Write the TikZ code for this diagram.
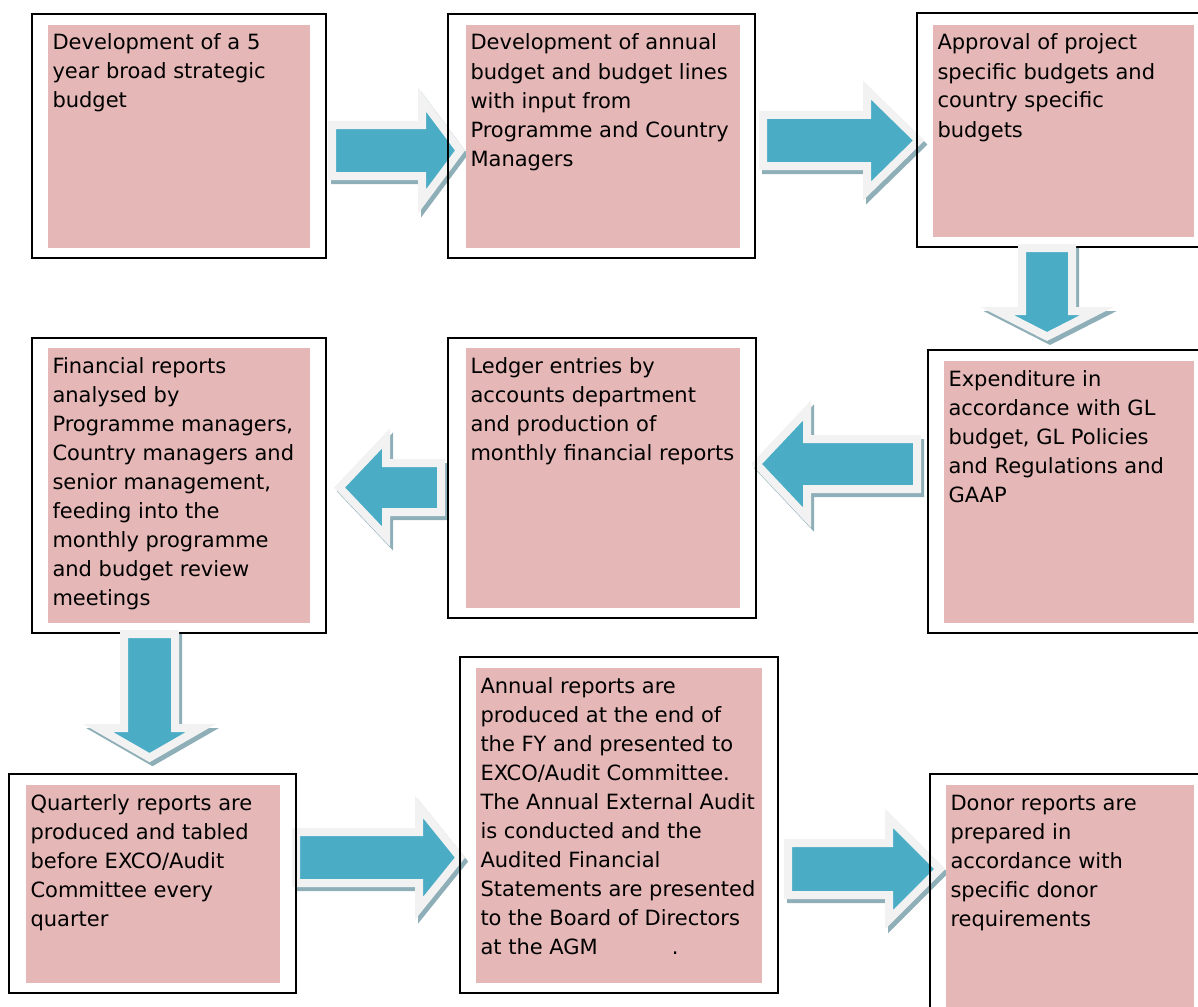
\documentclass[tikz,border=0pt]{standalone}
\usepackage{fontspec}
\setmainfont{DejaVu Sans}

\definecolor{panelpink}{HTML}{E5B8B7}
\definecolor{arrowblue}{HTML}{4BACC6}
\definecolor{arrowrim}{HTML}{F2F2F2}
\definecolor{shadowblue}{HTML}{8FAFB8}

\tikzset{
  frame/.style={draw=black, line width=2.8pt, inner sep=0pt, outer sep=0pt, anchor=north west},
  panel/.style={fill=panelpink, inner sep=0pt, outer sep=0pt, anchor=north west},
  boxtext/.style={anchor=north west, inner sep=0pt, outer sep=0pt, align=left,
    font=\fontsize{21}{29}\selectfont, text=black},
  arrowshadow/.style={fill=shadowblue, draw=shadowblue, line width=8pt, line join=miter},
  arrowbody/.style={fill=arrowblue, draw=arrowrim, line width=8pt, line join=miter},
}

% block arrow: start x, start y, direction, length, head base, shaft half width, head half width
\newcommand\flowarrow[7]{%
  \draw[arrowshadow, shift={(#1,#2)}, xshift=3pt, yshift=-4pt, rotate=#3]
    (0,-#6) -- (#5,-#6) -- (#5,-#7) -- (#4,0) -- (#5,#7) -- (#5,#6) -- (0,#6) -- cycle;
  \draw[arrowbody, shift={(#1,#2)}, rotate=#3]
    (0,-#6) -- (#5,-#6) -- (#5,-#7) -- (#4,0) -- (#5,#7) -- (#5,#6) -- (0,#6) -- cycle;
}
\newcommand\firstline{\rule{0pt}{17pt}}

\begin{document}
\begin{tikzpicture}[x=1pt, y=-1pt]
\useasboundingbox (0,0) rectangle (1198,1006);
\clip (0,0) rectangle (1198,1006);

% horizontal arrows sit behind the boxes
\flowarrow{332}{150.5}{0}{128}{90}{25.5}{51}
\flowarrow{763}{140.5}{0}{155.7}{104}{25.5}{50.5}
\flowarrow{917}{464}{180}{160.5}{110}{25}{53.6}
\flowarrow{441}{487.5}{180}{101.5}{55}{24.5}{49}
\flowarrow{296}{857.5}{0}{164}{123}{25.5}{50.8}
\flowarrow{788}{869}{0}{151.7}{101}{26}{50.7}

% row 1
\node[frame, minimum width=294pt, minimum height=244pt] (b1) at (32,14) {};
\node[panel, minimum width=262pt, minimum height=223pt] (b1-fill) at (48,25) {};
\node[boxtext] (b1-text) at (52.5,33) {\firstline Development of a 5\\year broad strategic\\budget};

\node[frame, minimum width=307pt, minimum height=244pt] (b2) at (448,14) {};
\node[panel, minimum width=274pt, minimum height=223pt] (b2-fill) at (466,25) {};
\node[boxtext] (b2-text) at (470.5,33) {\firstline Development of annual\\budget and budget lines\\with input from\\Programme and Country\\Managers};

\node[frame, minimum width=295pt, minimum height=234pt] (b3) at (917,13) {};
\node[panel, minimum width=261pt, minimum height=212pt] (b3-fill) at (933,25) {};
\node[boxtext] (b3-text) at (937.5,33) {\firstline Approval of project\\specific budgets and\\country specific\\budgets};

% row 2
\node[frame, minimum width=284pt, minimum height=283pt] (b4) at (928,350) {};
\node[panel, minimum width=250pt, minimum height=262pt] (b4-fill) at (944,361) {};
\node[boxtext] (b4-text) at (948.5,369) {\firstline Expenditure in\\accordance with GL\\budget, GL Policies\\and Regulations and\\GAAP};

\node[frame, minimum width=308pt, minimum height=280pt] (b5) at (448,338) {};
\node[panel, minimum width=274pt, minimum height=260pt] (b5-fill) at (466,348) {};
\node[boxtext] (b5-text) at (470.5,356) {\firstline Ledger entries by\\accounts department\\and production of\\monthly financial reports};

\node[frame, minimum width=294pt, minimum height=295pt] (b6) at (32,338) {};
\node[panel, minimum width=262pt, minimum height=275pt] (b6-fill) at (48,348) {};
\node[boxtext] (b6-text) at (52.5,356) {\firstline Financial reports\\analysed by\\Programme managers,\\Country managers and\\senior management,\\feeding into the\\monthly programme\\and budget review\\meetings};

% row 3
\node[frame, minimum width=287pt, minimum height=219pt] (b7) at (9,774) {};
\node[panel, minimum width=254pt, minimum height=198pt] (b7-fill) at (26,785) {};
\node[boxtext] (b7-text) at (30.5,793) {\firstline Quarterly reports are\\produced and tabled\\before EXCO/Audit\\Committee every\\quarter};

\node[frame, minimum width=318pt, minimum height=336pt] (b8) at (460,657) {};
\node[panel, minimum width=286pt, minimum height=315pt] (b8-fill) at (476,668) {};
\node[boxtext] (b8-text) at (480.5,676) {\firstline Annual reports are\\produced at the end of\\the FY and presented to\\EXCO/Audit Committee.\\The Annual External Audit\\is conducted and the\\Audited Financial\\Statements are presented\\to the Board of Directors\\at the AGM\hspace{74pt}.};

\node[frame, minimum width=282pt, minimum height=246pt] (b9) at (930,774) {};
\node[panel, minimum width=248pt, minimum height=235pt] (b9-fill) at (946,785) {};
\node[boxtext] (b9-text) at (950.5,793) {\firstline Donor reports are\\prepared in\\accordance with\\specific donor\\requirements};

% vertical arrows lie over the box frames
\flowarrow{1047}{248}{-90}{88.5}{63}{25}{50}
\flowarrow{149.5}{634}{-90}{123.6}{94}{25.5}{51.5}
\end{tikzpicture}
\end{document}
